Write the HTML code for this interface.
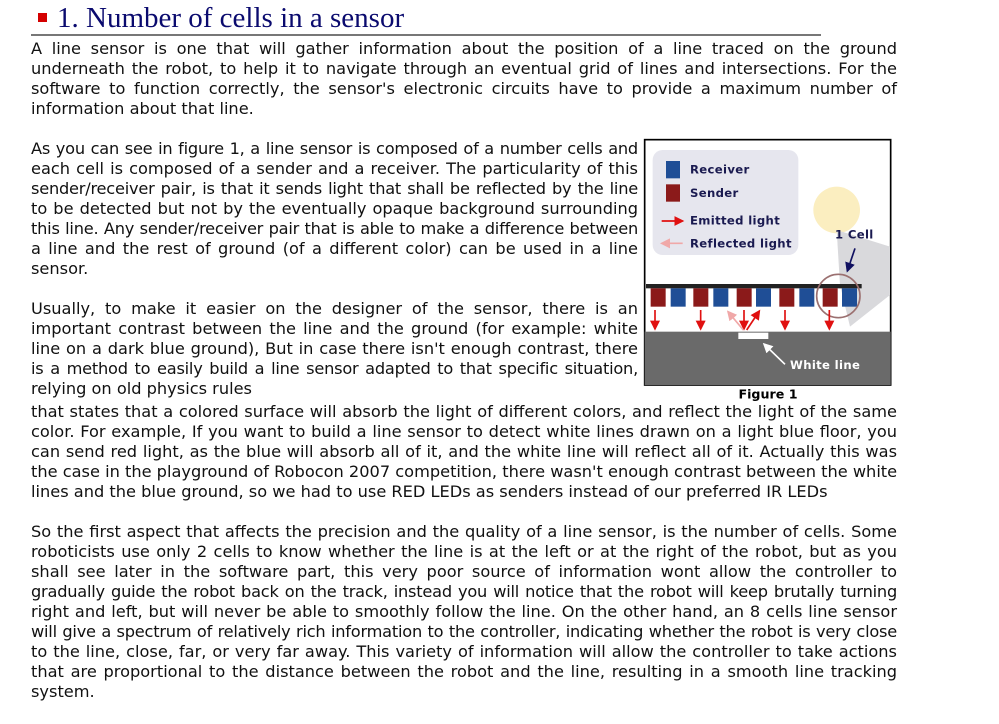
<!DOCTYPE html>
<html><head><meta charset="utf-8"><style>
body{margin:0;width:999px;height:724px;background:#fff;position:relative;overflow:hidden;font-family:"DejaVu Sans","Liberation Sans",sans-serif;font-size:16.2px;color:#111}
.l{position:absolute;left:31px;width:866px;height:20px;line-height:20px;white-space:nowrap;text-align:justify;text-align-last:justify}
.n{width:607px}
.e{text-align-last:left}
.t{letter-spacing:-0.22px}
h1{position:absolute;margin:0;left:57px;top:-2px;font-family:"Liberation Serif",serif;font-weight:normal;font-size:29px;color:#0a0a6e;line-height:40px}
</style></head><body>
<div style="position:absolute;left:38px;top:13px;width:9px;height:9px;background:#d40000"></div>
<h1>1. Number of cells in a sensor</h1>
<div style="position:absolute;left:31px;top:34px;width:790px;height:2px;background:#777"></div>
<div>
<div class="l" style="top:39px">A line sensor is one that will gather information about the position of a line traced on the ground</div>
<div class="l" style="top:59px">underneath the robot, to help it to navigate through an eventual grid of lines and intersections. For the</div>
<div class="l" style="top:79px">software to function correctly, the sensor's electronic circuits have to provide a maximum number of</div>
<div class="l e" style="top:99px">information about that line.</div>
</div>
<div>
<div class="l n t" style="top:139px">As you can see in figure 1, a line sensor is composed of a number cells and</div>
<div class="l n" style="top:159px">each cell is composed of a sender and a receiver. The particularity of this</div>
<div class="l n t" style="top:179px">sender/receiver pair, is that it sends light that shall be reflected by the line</div>
<div class="l n" style="top:199px">to be detected but not by the eventually opaque background surrounding</div>
<div class="l n t" style="top:219px">this line. Any sender/receiver pair that is able to make a difference between</div>
<div class="l n" style="top:239px">a line and the rest of ground (of a different color) can be used in a line</div>
<div class="l n e" style="top:259px">sensor.</div>
</div>
<div>
<div class="l n" style="top:299px">Usually, to make it easier on the designer of the sensor, there is an</div>
<div class="l n" style="top:319px">important contrast between the line and the ground (for example: white</div>
<div class="l n" style="top:339px">line on a dark blue ground), But in case there isn't enough contrast, there</div>
<div class="l n t" style="top:359px">is a method to easily build a line sensor adapted to that specific situation,</div>
<div class="l n e" style="top:379px">relying on old physics rules</div>
<div class="l" style="top:402px">that states that a colored surface will absorb the light of different colors, and reflect the light of the same</div>
<div class="l" style="top:422px">color. For example, If you want to build a line sensor to detect white lines drawn on a light blue floor, you</div>
<div class="l" style="top:442px">can send red light, as the blue will absorb all of it, and the white line will reflect all of it. Actually this was</div>
<div class="l" style="top:462px">the case in the playground of Robocon 2007 competition, there wasn't enough contrast between the white</div>
<div class="l e" style="top:482px">lines and the blue ground, so we had to use RED LEDs as senders instead of our preferred IR LEDs</div>
</div>
<div>
<div class="l" style="top:522px">So the first aspect that affects the precision and the quality of a line sensor, is the number of cells. Some</div>
<div class="l" style="top:542px">roboticists use only 2 cells to know whether the line is at the left or at the right of the robot, but as you</div>
<div class="l" style="top:562px">shall see later in the software part, this very poor source of information wont allow the controller to</div>
<div class="l t" style="top:582px">gradually guide the robot back on the track, instead you will notice that the robot will keep brutally turning</div>
<div class="l" style="top:602px">right and left, but will never be able to smoothly follow the line. On the other hand, an 8 cells line sensor</div>
<div class="l t" style="top:622px">will give a spectrum of relatively rich information to the controller, indicating whether the robot is very close</div>
<div class="l" style="top:642px">to the line, close, far, or very far away. This variety of information will allow the controller to take actions</div>
<div class="l" style="top:662px">that are proportional to the distance between the robot and the line, resulting in a smooth line tracking</div>
<div class="l e" style="top:682px">system.</div>
</div>
<svg style="position:absolute;left:640px;top:135px" width="260" height="270" viewBox="0 0 780 810">
<defs>
<marker id="ar" markerWidth="6" markerHeight="6" refX="5" refY="3" orient="auto"><path d="M0,0L6,3L0,6z" fill="#e01010"/></marker>
<marker id="ap" markerWidth="6" markerHeight="6" refX="5" refY="3" orient="auto"><path d="M0,0L6,3L0,6z" fill="#f0a8a8"/></marker>
<marker id="an" markerWidth="6" markerHeight="6" refX="5" refY="3" orient="auto"><path d="M0,0L6,3L0,6z" fill="#101060"/></marker>
<marker id="aw" markerWidth="6" markerHeight="6" refX="5" refY="3" orient="auto"><path d="M0,0L6,3L0,6z" fill="#fff"/></marker>
</defs>
<rect x="14" y="14" width="738" height="736" fill="#fff" stroke="#000" stroke-width="5"/>
<rect x="38" y="45" width="437" height="315" rx="30" fill="#e6e6ee"/>
<rect x="78" y="78" width="42" height="52" fill="#1f4e96"/>
<rect x="78" y="148" width="42" height="52" fill="#8b1a1a"/>
<line x1="65" y1="258" x2="128" y2="258" stroke="#e01010" stroke-width="5" marker-end="url(#ar)"/>
<line x1="128" y1="325" x2="65" y2="325" stroke="#f0a8a8" stroke-width="5" marker-end="url(#ap)"/>
<circle cx="590" cy="225" r="70" fill="#fbeec0"/>
<polygon points="590,285 750,335 750,480 630,575 600,450" fill="#d9d9dc"/>
<g font-family="DejaVu Sans,sans-serif" font-weight="bold" font-size="35" fill="#1a1a50" letter-spacing="1">
<text x="150" y="115">Receiver</text><text x="150" y="186">Sender</text>
<text x="150" y="268">Emitted light</text><text x="150" y="337">Reflected light</text>
<text x="585" y="310">1 Cell</text></g>
<rect x="18" y="447" width="647" height="13" fill="#222"/>
<g fill="#8b1a1a"><rect x="32" y="460" width="45" height="55"/><rect x="160" y="460" width="45" height="55"/><rect x="290" y="460" width="45" height="55"/><rect x="418" y="460" width="45" height="55"/><rect x="548" y="460" width="45" height="55"/></g>
<g fill="#1f4e96"><rect x="92" y="460" width="45" height="55"/><rect x="220" y="460" width="45" height="55"/><rect x="348" y="460" width="45" height="55"/><rect x="478" y="460" width="45" height="55"/><rect x="606" y="460" width="45" height="55"/></g>
<circle cx="595" cy="483" r="65" fill="none" stroke="#9b7070" stroke-width="5"/>
<line x1="645" y1="340" x2="622" y2="408" stroke="#101060" stroke-width="5" marker-end="url(#an)"/>
<g stroke="#e01010" stroke-width="5" marker-end="url(#ar)"><line x1="45" y1="525" x2="45" y2="582"/><line x1="182" y1="525" x2="182" y2="582"/><line x1="312" y1="525" x2="312" y2="582"/><line x1="435" y1="525" x2="435" y2="582"/><line x1="568" y1="525" x2="568" y2="582"/><line x1="320" y1="585" x2="358" y2="528"/></g>
<line x1="310" y1="585" x2="264" y2="530" stroke="#f0a8a8" stroke-width="5" marker-end="url(#ap)"/>
<rect x="14" y="590" width="738" height="160" fill="#6a6a6a"/>
<rect x="295" y="593" width="90" height="19" fill="#fff"/>
<line x1="435" y1="688" x2="372" y2="627" stroke="#fff" stroke-width="5" marker-end="url(#aw)"/>
<text x="450" y="702" font-family="DejaVu Sans,sans-serif" font-weight="bold" font-size="35" letter-spacing="1" fill="#fff">White line</text>
<text x="384" y="790" text-anchor="middle" font-family="DejaVu Sans,sans-serif" font-weight="bold" font-size="38" fill="#000">Figure 1</text>
</svg>
</body></html>
